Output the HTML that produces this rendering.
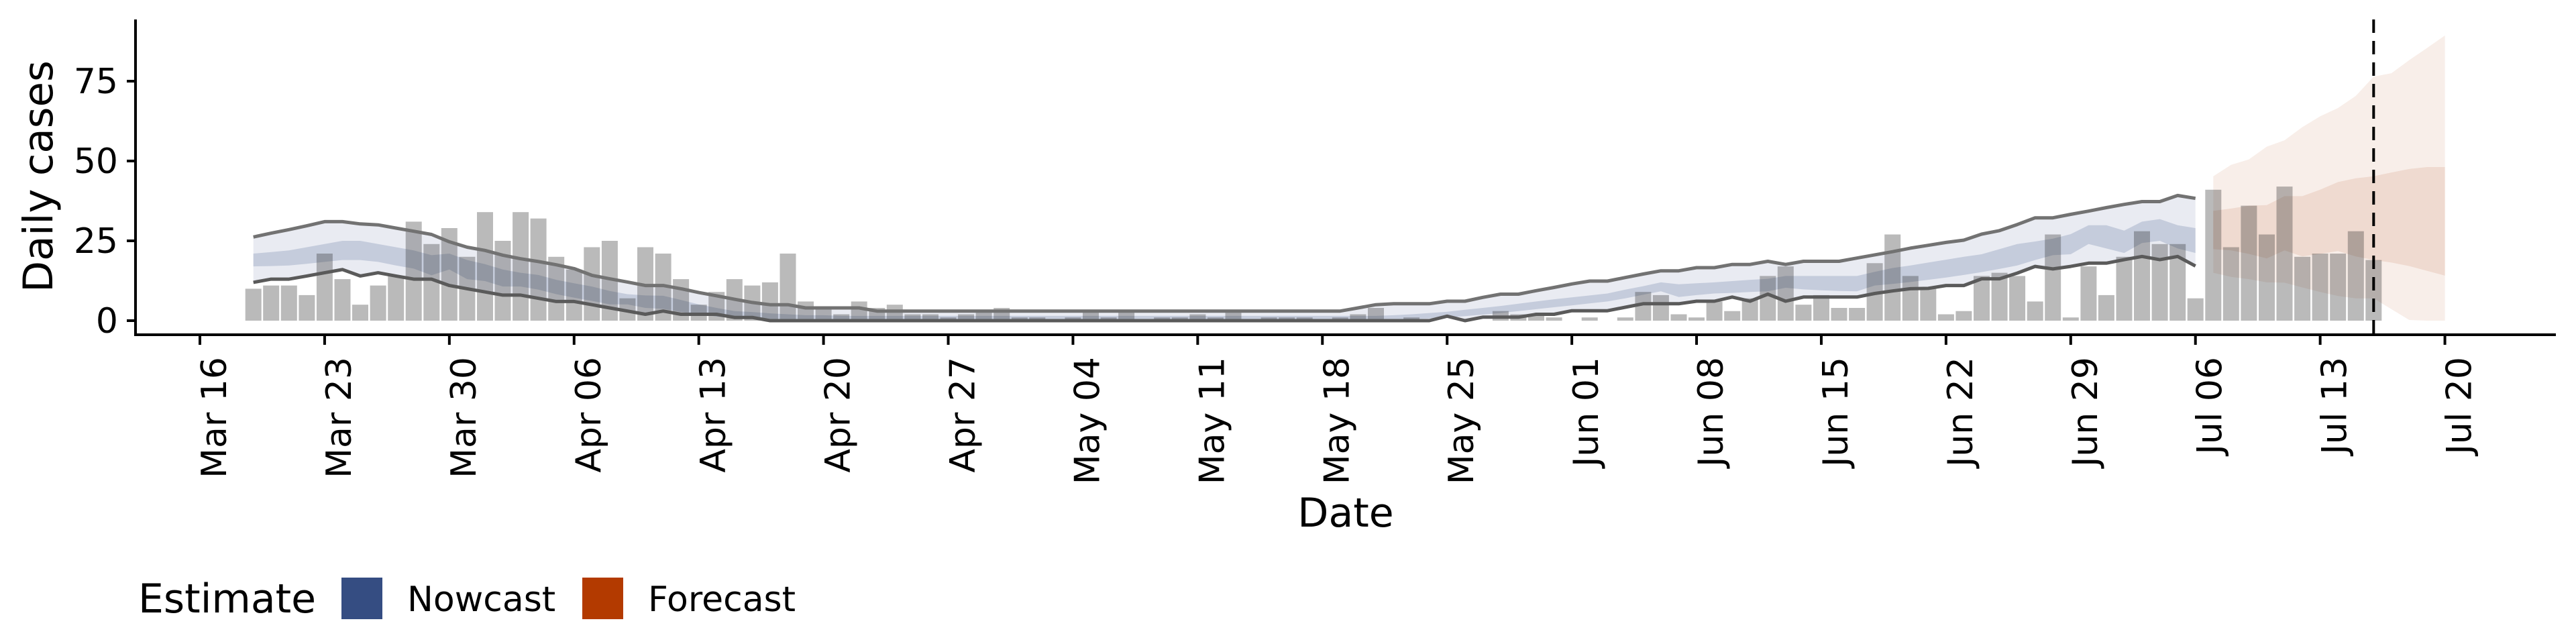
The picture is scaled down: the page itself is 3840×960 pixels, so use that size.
<!DOCTYPE html>
<html>
<head>
<meta charset="utf-8">
<style>
  html,body{margin:0;padding:0;background:#fff;}
  svg{display:block;font-family:"DejaVu Sans","Liberation Sans",sans-serif;}
</style>
</head>
<body>
<svg id="chart" width="3840" height="960" viewBox="0 0 3840 960" xmlns="http://www.w3.org/2000/svg">
  <g id="bands"></g>
  <g id="bars"></g>
  <g id="lines"></g>
  <g id="axes"></g>
  <text x="0" y="0" font-size="61" text-anchor="middle" transform="translate(78,263) rotate(-90)">Daily cases</text>
  <text x="2006" y="785" font-size="60" text-anchor="middle">Date</text>
  <g>
    <text x="206" y="913" font-size="60">Estimate</text>
    <rect x="509" y="861" width="61" height="62" fill="#354d82"/>
    <text x="607" y="911" font-size="52">Nowcast</text>
    <rect x="868" y="861" width="61" height="62" fill="#b33a00"/>
    <text x="966" y="911" font-size="52">Forecast</text>
  </g>
</svg>
<script>
// ---- data ----
const barStartDay = 3; // Mar 19 (days since Mar 16)
const dailyCases = [10,11,11,8,21,13,5,11,14,31,24,29,20,34,25,34,32,20,16,23,25,7,23,21,13,5,9,13,11,12,21,6,4,
  2,6,4,5,2,2,1,2,3,4,1,1,0,1,3,1,3,0,1,1,2,1,3,0,1,1,1,0,1,2,4,0,1,
  0,0,0,0,3,2,2,1,0,1,0,1,9,8,2,1,6,3,7,14,17,5,8,4,4,18,27,14,
  10,2,3,14,15,14,6,27,1,17,8,20,28,24,24,7,41,23,36,27,42,20,21,21,28,19];
const nowcastStartDay = 3;
const nowcastUpper90 = [26.2,27.4,28.5,29.7,31,31,30.3,30,29,28,27,24.7,23,22,20.5,19.4,18.5,17.5,16.3,14.2,13.1,12.1,11,11,10,8.8,7.8,6.7,5.7,5,5,4,4,4,4,
  3,3,3,3,3,3,3,3,3,3,3,3,3,3,3,3,3,3,3,3,3,3,3,3,3,3,3,
  4,5,5.3,5.3,5.3,6.1,6.1,7.3,8.3,8.3,9.4,10.4,11.5,12.4,12.4,13.5,14.6,15.6,15.6,16.6,16.6,17.6,17.6,18.6,17.6,18.6,18.6,18.6,19.6,20.6,21.6,22.7,23.6,24.5,25.2,27.1,28.2,30.1,32.2,32.2,33.3,34.3,35.4,36.4,37.3,37.3,39.2,38.3];
const nowcastLower90 = [12,13,13,14,15,16,14,15,14,13,13,11,10,9,8,8,7,6,6,5,4,3,2,3,2,2,2,1,1,
  0,0,0,0,0,0,0,0,0,0,0,0,0,0,0,0,0,0,0,0,0,0,0,0,0,0,0,0,0,0,0,0,0,0,0,0,0,0,
  1.4,0,1.1,1.1,1.1,2,2,3.1,3.1,3.1,4.2,5.3,5.3,5.3,6.1,6.1,7.4,6.1,8.3,6.1,7.4,7.4,7.4,7.4,8.5,9.3,10,10.1,11,11,13.1,13.1,14.9,17,16.2,17,18,18,19.1,20.1,19.1,20.1,17.1];
const nowcastUpper50 = [21,21.5,22,23,24,25,25,24,23,22,20.5,21,19,17.7,16,15,14.3,12.8,11.7,10.7,9.3,8.3,7.9,7.8,6.5,5.1,4,3,2.7,2.3,2,1.7,1.7,
  1.5,1.5,1.5,1.5,1.5,1.5,1.5,1.5,1.5,1.5,1.5,1.5,1.5,1.5,1.5,1.5,1.5,1.5,1.5,1.5,1.5,1.5,1.5,1.5,1.5,1.5,1.5,1.5,1.5,1.5,1.5,
  1.7,2,2.4,2.8,3.4,4,4.6,5.3,6,6.7,7.3,7.9,8.5,9.7,10.8,12,11.4,11.7,12,12.4,12.8,13.1,14,14,14,14,14,15.3,16.5,17.3,18.2,19.1,20,20.8,22.4,24,24.8,25.7,27.1,29.9,29.9,28.2,31,31.8,29.9,29];
const nowcastLower50 = [17,17.1,17.3,17.8,18.4,19,19,18.4,17.3,16.3,14.2,16,13,12.4,10.7,10.7,9.7,8.3,7.2,6.2,5.1,5.1,4,3.7,2.7,2,1.3,0.7,0.5,0.4,0.4,0.4,0.4,
  0.3,0.3,0.3,0.3,0.3,0.3,0.3,0.3,0.3,0.3,0.3,0.3,0.3,0.3,0.3,0.3,0.3,0.3,0.3,0.3,0.3,0.3,0.3,0.3,0.3,0.3,0.3,0.3,0.3,0.3,0.3,
  0.3,0.5,0.7,1,1.4,1.9,2.4,3,3.6,4.2,4.8,5.4,6,7,8.1,9.2,7.4,8,8.5,8.7,9,9.2,10.3,9.8,9.5,9.3,9.2,11,11.5,12.1,12.8,13.5,14.3,15.2,16.2,17.3,19,20.5,20.8,24,22.6,21.2,24.3,25,22.6,21.2];
const forecastStartDay = 113;
const forecastUpper90 = [45.2,48.8,50.5,54.5,56.5,60.6,64,66.6,70.4,76.4,77.5,81.6,85.4,89.3];
const forecastLower90 = [15,13.7,13,12,11.9,10.4,9,7.7,7,7,3.6,0.2,0,0];
const forecastUpper50 = [34.4,35.1,36,36.2,39,39,41,43.4,44.6,45.2,46.4,47.5,48.1,48.1];
const forecastLower50 = [22.4,22,20.9,19.5,22,20.1,20.9,21.8,20.1,19,18.2,17.1,15.6,14.1];
const yTicks = [0,25,50,75];
const xTickLabels = ["Mar 16","Mar 23","Mar 30","Apr 06","Apr 13","Apr 20","Apr 27","May 04","May 11","May 18","May 25","Jun 01","Jun 08","Jun 15","Jun 22","Jun 29","Jul 06","Jul 13","Jul 20"];
const dataDateDay = 122; // Jul 16

// ---- scales ----
const NS = "http://www.w3.org/2000/svg";
function xs(d){ return 298 + 26.56 * d; }
function ys(v){ return 478 - 4.76 * v; }
function mk(tag, attrs, parent){
  const el = document.createElementNS(NS, tag);
  for (const k in attrs) el.setAttribute(k, attrs[k]);
  parent.appendChild(el);
  return el;
}
function areaPath(start, up, lo){
  let p = "";
  for (let i = 0; i < up.length; i++) p += (i ? "L" : "M") + xs(start + i).toFixed(1) + "," + ys(up[i]).toFixed(1);
  for (let i = lo.length - 1; i >= 0; i--) p += "L" + xs(start + i).toFixed(1) + "," + ys(lo[i]).toFixed(1);
  return p + "Z";
}
function linePath(start, vals){
  let p = "";
  for (let i = 0; i < vals.length; i++) p += (i ? "L" : "M") + xs(start + i).toFixed(1) + "," + ys(vals[i]).toFixed(1);
  return p;
}

const bands = document.getElementById("bands");
let el;
el = mk("path", {d: areaPath(nowcastStartDay, nowcastUpper90, nowcastLower90), fill: "#e9ebf2"}, bands);


el = mk("path", {d: areaPath(nowcastStartDay, nowcastUpper50, nowcastLower50), fill: "#c5ccdc"}, bands);


el = mk("path", {d: areaPath(forecastStartDay, forecastUpper90, forecastLower90), fill: "#f8eee9"}, bands);


el = mk("path", {d: areaPath(forecastStartDay, forecastUpper50, forecastLower50), fill: "#efdad0"}, bands);



const bars = document.getElementById("bars");
for (let i = 0; i < dailyCases.length; i++){
  const d = barStartDay + i;
  const v = dailyCases[i];
  const b = mk("rect", {x: (xs(d) - 12).toFixed(1), y: ys(v).toFixed(1), width: 24, height: (ys(0) - ys(v)).toFixed(1), fill: "rgba(40,40,40,0.32)"}, bars);
  
  
}

const lines = document.getElementById("lines");
el = mk("path", {d: linePath(nowcastStartDay, nowcastUpper90), fill: "none", stroke: "#727272", "stroke-width": 5, "stroke-linejoin": "round"}, lines);


el = mk("path", {d: linePath(nowcastStartDay, nowcastLower90), fill: "none", stroke: "#5a5a5a", "stroke-width": 5, "stroke-linejoin": "round"}, lines);



const axes = document.getElementById("axes");
el = mk("line", {x1: xs(dataDateDay), y1: 29, x2: xs(dataDateDay), y2: 499, stroke: "#000", "stroke-width": 4, "stroke-dasharray": "20 12"}, axes);


el = mk("line", {x1: 202, y1: 29, x2: 202, y2: 501, stroke: "#000", "stroke-width": 4}, axes);


el = mk("line", {x1: 200, y1: 499, x2: 3810, y2: 499, stroke: "#000", "stroke-width": 4}, axes);



for (const t of yTicks){
  const tk = mk("line", {x1: 189, y1: ys(t), x2: 202, y2: ys(t), stroke: "#000", "stroke-width": 4}, axes);
  
  
  const lb = mk("text", {x: 176, y: ys(t) + 18, "font-size": 52, "text-anchor": "end"}, axes);
  lb.textContent = t;
  
  
}
for (let i = 0; i < xTickLabels.length; i++){
  const x = xs(i * 7);
  const tk = mk("line", {x1: x, y1: 499, x2: x, y2: 514, stroke: "#000", "stroke-width": 4}, axes);
  
  
  const lb = mk("text", {x: 0, y: 0, "font-size": 52, "text-anchor": "end", transform: "translate(" + (x + 39).toFixed(1) + ",532) rotate(-90)"}, axes);
  lb.textContent = xTickLabels[i];
  
  
}
</script>
</body>
</html>
